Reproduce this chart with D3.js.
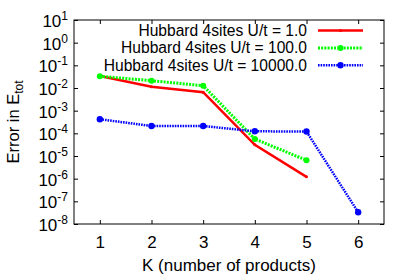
<!DOCTYPE html>
<html>
<head>
<meta charset="utf-8">
<script src="https://cdn.jsdelivr.net/npm/d3@7"></script>
<style>
  body { margin: 0; background: #fff; }
  text { font-family: "Liberation Sans", Arial, sans-serif; fill: #000; }
</style>
</head>
<body>
<div id="chart"></div>
<script>
// data
const kValues = [1, 2, 3, 4, 5, 6];
const u1 = [0.034, 0.0114, 0.0065, 3.1e-5, 1.2e-6];
const u100 = [0.033, 0.021, 0.0126, 5.6e-5, 6.5e-6];
const u10000 = [4.2e-4, 2.1e-4, 2.1e-4, 1.23e-4, 1.2e-4, 3.3e-8];
const seriesNames = ["Hubbard 4sites U/t = 1.0", "Hubbard 4sites U/t = 100.0", "Hubbard 4sites U/t = 10000.0"];
const yExponents = [1, 0, -1, -2, -3, -4, -5, -6, -7, -8];

const width = 415, height = 277;
const margin = {top: 20, left: 74, right: 31, bottom: 53};

const svg = d3.select("#chart").append("svg")
    .attr("width", width)
    .attr("height", height);

const xScale = d3.scaleLinear()
    .domain([0.5, 6.5])
    .range([margin.left, width - margin.right]);

const yScale = d3.scaleLog()
    .domain([1e-8, 10])
    .range([height - margin.bottom, margin.top]);

const series = [
    {name: seriesNames[0], values: u1, color: "#ff0000", dash: null, w: 2.5, r: 1.5},
    {name: seriesNames[1], values: u100, color: "#00ff00", dash: "2,1.2", w: 3, r: 3},
    {name: seriesNames[2], values: u10000, color: "#0000ff", dash: "1.6,1", w: 2.5, r: 3.2}
];

/* axes: ticks inside, mirrored on all four sides */
const tickLen = 4;
const yTicks = yExponents.map(e => Math.pow(10, e));

svg.append("g")
    .attr("transform", `translate(0,${height - margin.bottom})`)
    .call(d3.axisBottom(xScale).tickValues(kValues).tickSize(-tickLen).tickPadding(12).tickFormat(d3.format("d")))
    .call(g => g.select(".domain").remove())
    .selectAll("text").attr("font-size", 17).attr("dy", "0.72em");

svg.append("g")
    .attr("transform", `translate(0,${margin.top})`)
    .call(d3.axisTop(xScale).tickValues(kValues).tickSize(-tickLen).tickFormat(""))
    .call(g => g.select(".domain").remove());

svg.append("g")
    .attr("transform", `translate(${margin.left},0)`)
    .call(d3.axisLeft(yScale).tickValues(yTicks).tickSize(-tickLen).tickFormat(""))
    .call(g => g.select(".domain").remove());

svg.append("g")
    .attr("transform", `translate(${width - margin.right},0)`)
    .call(d3.axisRight(yScale).tickValues(yTicks).tickSize(-tickLen).tickFormat(""))
    .call(g => g.select(".domain").remove());

// y tick labels as 10 with superscript exponent
yExponents.forEach(function(e) {
    const t = svg.append("text")
        .attr("x", margin.left - 6)
        .attr("y", yScale(Math.pow(10, e)) + 7)
        .attr("text-anchor", "end")
        .attr("font-size", 17);
    t.append("tspan").text("10");
    t.append("tspan").attr("dy", -7).attr("font-size", 12).text(e);
});

svg.selectAll(".tick line").attr("stroke", "#000");

svg.append("rect")
    .attr("x", margin.left)
    .attr("y", margin.top)
    .attr("width", width - margin.left - margin.right)
    .attr("height", height - margin.top - margin.bottom)
    .attr("fill", "none")
    .attr("stroke", "#000")
    .attr("stroke-width", 1);

/* lines and points */
const line = d3.line()
    .x((d, i) => xScale(kValues[i]))
    .y(d => yScale(d));

series.forEach(function(s) {
    svg.append("path")
        .datum(s.values)
        .attr("d", line)
        .attr("fill", "none")
        .attr("stroke", s.color)
        .attr("stroke-width", s.w)
        .attr("stroke-dasharray", s.dash);

    svg.selectAll(null)
        .data(s.values)
        .enter()
        .append("circle")
        .attr("cx", (d, i) => xScale(kValues[i]))
        .attr("cy", d => yScale(d))
        .attr("r", s.r)
        .attr("fill", s.color);
});

/* legend */
series.forEach(function(s, i) {
    const y = 30.5 + i * 17.4;
    svg.append("text")
        .attr("x", 307)
        .attr("y", y + 5.5)
        .attr("text-anchor", "end")
        .attr("font-size", 15.6)
        .text(s.name);
    svg.append("line")
        .attr("x1", 318).attr("x2", 363)
        .attr("y1", y).attr("y2", y)
        .attr("stroke", s.color)
        .attr("stroke-width", s.w)
        .attr("stroke-dasharray", s.dash);
    svg.append("circle")
        .attr("cx", 340.5).attr("cy", y)
        .attr("r", s.r)
        .attr("fill", s.color);
});

/* axis labels */
svg.append("text")
    .attr("x", xScale(3.5))
    .attr("y", 271)
    .attr("text-anchor", "middle")
    .attr("font-size", 17)
    .text("K (number of products)");

const yLabel = svg.append("text")
    .attr("transform", "rotate(-90)")
    .attr("x", -122)
    .attr("y", 19)
    .attr("text-anchor", "middle")
    .attr("font-size", 16.5);
yLabel.append("tspan").text("Error in E");
yLabel.append("tspan").attr("dy", 4).attr("font-size", 12).text("tot");
</script>
</body>
</html>
